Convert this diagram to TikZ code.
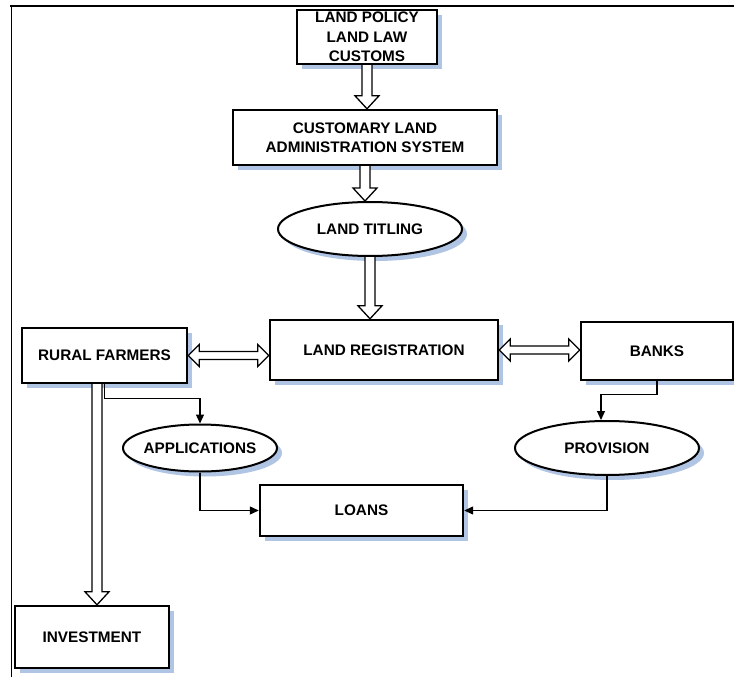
\documentclass[tikz,border=0pt]{standalone}
\usepackage{fontspec}
\setmainfont{Liberation Sans}
\usetikzlibrary{shapes.geometric,shadows,calc,arrows.meta}
\definecolor{shadowblue}{RGB}{176,196,228}
\tikzset{
  sysbox/.style={rectangle, draw=black, line width=2.4pt, fill=white, align=center, inner sep=0pt,
    drop shadow={shadow xshift=5pt, shadow yshift=-5pt, fill=shadowblue, opacity=1}},
  sysoval/.style={ellipse, draw=black, line width=2pt, fill=white, inner ysep=0pt, inner xsep=-8pt,
    drop shadow={shadow xshift=5pt, shadow yshift=-5pt, fill=shadowblue, opacity=1}},
  blockarrow/.style={draw=black, line width=1.3pt, fill=white, line join=miter},
  link/.style={draw=black, line width=1.2pt, -{Triangle[length=9pt,width=8pt]}}
}
% hollow arrow pointing down, x taken from the first point
\newcommand{\downblock}[2]{%
  \draw[blockarrow] let \p1=#1, \p2=#2 in
    (\x1-5pt,\y1) -- (\x1-5pt,\y2+13pt) -- (\x1-12pt,\y2+13pt) -- (\x1,\y2)
    -- (\x1+12pt,\y2+13pt) -- (\x1+5pt,\y2+13pt) -- (\x1+5pt,\y1);}
% hollow two-headed arrow, y taken from the first point
\newcommand{\sideblock}[2]{%
  \draw[blockarrow] let \p1=#1, \p2=#2 in
    (\x1,\y1) -- (\x1+11pt,\y1+11pt) -- (\x1+11pt,\y1+4pt) -- (\x2-11pt,\y1+4pt)
    -- (\x2-11pt,\y1+11pt) -- (\x2,\y1) -- (\x2-11pt,\y1-11pt) -- (\x2-11pt,\y1-4pt)
    -- (\x1+11pt,\y1-4pt) -- (\x1+11pt,\y1-11pt) -- cycle;}
\begin{document}
\begin{tikzpicture}[x=1pt, y=-1pt, font=\fontsize{15.3}{19.5}\selectfont\bfseries]
\useasboundingbox (0,0) rectangle (734,677);
\draw[line width=2pt] (10,6) -- (734,6);
\draw[line width=1pt] (11,5) -- (11,677);

\node (top) [sysbox, minimum width=140pt, minimum height=54pt] at (367,37) {LAND POLICY\\LAND LAW\\CUSTOMS};
\node (cla) [sysbox, minimum width=264pt, minimum height=55pt] at (365,137.5) {CUSTOMARY LAND\\ADMINISTRATION SYSTEM};
\node (tit) [sysoval, minimum width=184pt, minimum height=54pt] at (370,229) {LAND TITLING};
\node (lr) [sysbox, minimum width=228pt, minimum height=60pt] at (384,350) {LAND REGISTRATION};
\node (rf) [sysbox, minimum width=165pt, minimum height=55pt] at (104.5,355.5) {RURAL FARMERS};
\node (banks) [sysbox, minimum width=152pt, minimum height=58pt] at (657,351) {BANKS};
\node (app) [sysoval, minimum width=154pt, minimum height=47pt] at (200,448) {APPLICATIONS};
\node (prov) [sysoval, minimum width=184pt, minimum height=54pt] at (607,448) {PROVISION};
\node (loans) [sysbox, minimum width=203pt, minimum height=51pt] at (361.5,510.5) {LOANS};
\node (inv) [sysbox, minimum width=154pt, minimum height=62pt] at (92,637) {INVESTMENT};

\downblock{(top.south)}{(cla.north)}
\downblock{(cla.south)}{(tit.north)}
\downblock{(tit.south)}{(lr.north)}
\downblock{([xshift=-7.5pt]rf.south)}{(inv.north)}
\sideblock{(rf.east)}{(lr.west)}
\sideblock{(lr.east)}{(banks.west)}

\draw[link] (rf.south) -- ++(0,14) -| (app.north);
\draw[link] (banks.south) -- ++(0,13) -| ([xshift=-6pt]prov.north);
\draw[link] (app.south) |- (loans.west);
\draw[link] (prov.south) |- (loans.east);
\end{tikzpicture}
\end{document}
